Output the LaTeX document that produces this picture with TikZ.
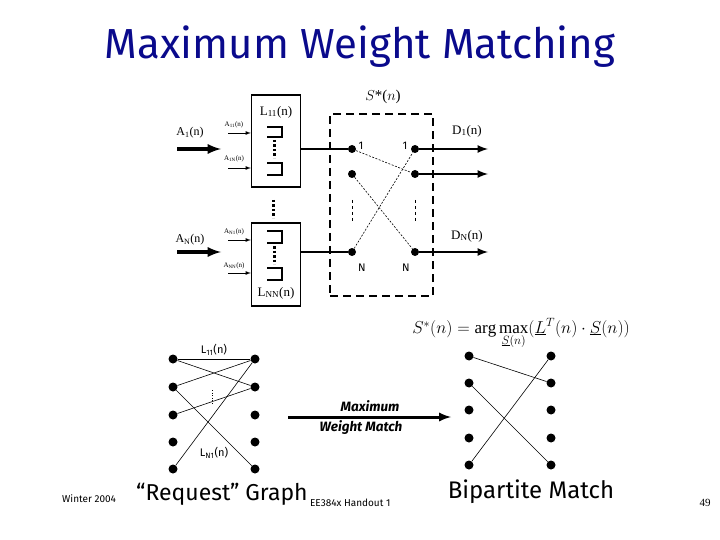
\documentclass[tikz,border=0pt]{standalone}
\usepackage{fontspec}
\setmainfont{Liberation Serif}
\newfontfamily\handfont{Fira Sans}
\usepackage{xcolor}
\usepackage{tikz}
\usetikzlibrary{arrows, positioning}
\definecolor{titleblue}{RGB}{10,10,140}

\begin{document}
\begin{tikzpicture}[x=1pt, y=-1pt]

\tikzstyle{qbox}=[rectangle,draw,line width=1.5pt,minimum width=49pt,inner sep=0pt]
\tikzstyle{dot}=[circle,fill=black,inner sep=0pt,minimum size=8pt]
\tikzstyle{fat}=[draw,line width=3.5pt,-latex]
\tikzstyle{thin}=[draw,line width=0.8pt,-latex]
\tikzstyle{wire}=[draw,line width=2.5pt]
\tikzstyle{edge}=[draw,line width=0.6pt]
\tikzstyle{lab}=[inner sep=0pt,font=\fontsize{13}{14}\selectfont]
\tikzstyle{tiny}=[inner sep=0pt,font=\fontsize{7}{8}\selectfont]
\tikzstyle{hand}=[inner sep=0pt,font=\handfont\fontsize{10}{12}\selectfont]
\tikzstyle{big}=[inner sep=0pt,font=\handfont\fontsize{24}{26}\selectfont]

\useasboundingbox (0,0) rectangle (720,540);

\node (title) [inner sep=0pt,text=titleblue,font=\handfont\fontsize{42}{46}\selectfont] at (360,47) {Maximum Weight Matching};

% input queues
\node (L11) [qbox,minimum height=92pt] at (276,141) {};
\node (LNN) [qbox,minimum height=83pt] at (276,264.5) {};
\node (L11lab) [lab] at (276,112) {L\textsubscript{11}(n)};
\node (LNNlab) [lab] at (276,293) {L\textsubscript{NN}(n)};

\draw[line width=2.5pt] (267,127) -- (282,127) -- (282,137) -- (267,137);
\draw[line width=2.5pt] (267,163) -- (282,163) -- (282,175) -- (267,175);
\draw[line width=2.5pt] (267,231) -- (282,231) -- (282,243) -- (267,243);
\draw[line width=2.5pt] (267,268) -- (282,268) -- (282,280) -- (267,280);
\draw[line width=3pt,dash pattern=on 2.5pt off 2pt] (274,140) -- (274,158);
\draw[line width=3pt,dash pattern=on 2.5pt off 2pt] (274,246) -- (274,264);
\draw[line width=3pt,dash pattern=on 2.5pt off 2pt] (273,200) -- (273,218);

\node (A1) [lab,font=\fontsize{12}{13}\selectfont] at (190,133) {A\textsubscript{1}(n)};
\node (AN) [lab,font=\fontsize{12}{13}\selectfont] at (190,240) {A\textsubscript{N}(n)};
\coordinate (a1s) at (177,149);
\coordinate (a1e) at (221,149);
\coordinate (aNs) at (177,252);
\coordinate (aNe) at (221,252);

\node (A11) [tiny] at (234,125) {A\textsubscript{11}(n)};
\node (A1N) [tiny] at (234,159) {A\textsubscript{1N}(n)};
\node (AN1) [tiny] at (234,232) {A\textsubscript{N1}(n)};
\node (ANN) [tiny] at (234,266) {A\textsubscript{NN}(n)};
\coordinate (a11) at (228,133);
\coordinate (a1n) at (228,168);
\coordinate (an1) at (228,240);
\coordinate (ann) at (228,273);

% crossbar
\node (sw) [draw,line width=2.5pt,dash pattern=on 8pt off 5pt,minimum width=103pt,minimum height=182pt,inner sep=0pt] at (381.5,205) {};
\node (swlab) [lab,font=\fontsize{15}{16}\selectfont] at (383,97) {$S$*($n$)};

\node (l1) [dot] at (352,149) {};
\node (l2) [dot] at (352,174) {};
\node (lN) [dot] at (352,252) {};
\node (r1) [dot] at (415,149) {};
\node (r2) [dot] at (415,174) {};
\node (rN) [dot] at (415,252) {};

\node (l1lab) [hand,font=\handfont\fontsize{11}{12}\selectfont] at (361,146) {1};
\node (r1lab) [hand,font=\handfont\fontsize{11}{12}\selectfont] at (405,146) {1};
\node (lNlab) [hand,font=\handfont\fontsize{11}{12}\selectfont] at (362,268) {N};
\node (rNlab) [hand,font=\handfont\fontsize{11}{12}\selectfont] at (406,268) {N};

\coordinate (d1) at (488,149);
\coordinate (d2) at (488,174);
\coordinate (dN) at (488,252);
\node (D1) [lab] at (467,131) {D\textsubscript{1}(n)};
\node (DN) [lab] at (467,236) {D\textsubscript{N}(n)};

% request graph
\foreach \i/\y in {1/359,2/387,3/415,4/442,5/469} {
  \node (p\i) [dot,minimum size=9pt] at (173,\y) {};
  \node (q\i) [dot,minimum size=9pt] at (255,\y) {};
}
\node (Lq11) [hand,font=\handfont\fontsize{11}{12}\selectfont] at (214,350) {L\textsubscript{11}(n)};
\node (LqN1) [hand,font=\handfont\fontsize{11}{12}\selectfont] at (214,453) {L\textsubscript{N1}(n)};

% bipartite match
\foreach \i/\y in {1/356,2/383,3/410,4/438,5/465} {
  \node (u\i) [dot,minimum size=9pt] at (469,\y) {};
  \node (v\i) [dot,minimum size=9pt] at (551,\y) {};
}

\node (mw1) [hand,font=\handfont\itshape\bfseries\fontsize{13.5}{14}\selectfont] at (370,406) {Maximum};
\node (mw2) [hand,font=\handfont\itshape\bfseries\fontsize{13.5}{14}\selectfont] at (361,428) {Weight Match};
\coordinate (ms) at (288,417);
\coordinate (me) at (451,417);

\node (eq) [inner sep=0pt,font=\fontsize{17}{18}\selectfont] at (521,333)
  {$S^*(n)=\arg\max\limits_{\underline{S}(n)}(\underline{L}^T(n)\cdot\underline{S}(n))$};

% footer
\node (winter) [hand,anchor=base west] at (62,502) {Winter 2004};
\node (req) [big,font=\handfont\fontsize{23}{25}\selectfont,anchor=base west] at (136,500) {“Request” Graph};
\node (handout) [hand,anchor=base west] at ([xshift=2pt,yshift=-6pt]req.base east) {EE384x Handout 1};
\node (bip) [big] at (531,492) {Bipartite Match};
\node (page) [inner sep=0pt,font=\fontsize{11}{12}\selectfont] at (705,503) {49};

% Connections
\path[fat] (a1s) -- (a1e);
\path[fat] (aNs) -- (aNe);
\path[thin] (a11) -- (L11.west |- a11);
\path[thin] (a1n) -- (L11.west |- a1n);
\path[thin] (an1) -- (LNN.west |- an1);
\path[thin] (ann) -- (LNN.west |- ann);

\path[wire] (L11.east |- l1) -- (l1);
\path[wire] (LNN.east |- lN) -- (lN);
\path[wire,-latex] (r1) -- (d1);
\path[wire,-latex] (r2) -- (d2);
\path[wire,-latex] (rN) -- (dN);

\draw[line width=0.6pt,dash pattern=on 2pt off 1.5pt] (l1) -- (r2);
\draw[line width=0.6pt,dash pattern=on 2pt off 1.5pt] (l2) -- (rN);
\draw[line width=0.6pt,dash pattern=on 2pt off 1.5pt] (lN) -- (r1);
\draw[line width=0.8pt,dashed] ([yshift=-26pt]l2.center) -- ([yshift=-48pt]l2.center);
\draw[line width=0.8pt,dashed] ([yshift=-26pt]r2.center) -- ([yshift=-48pt]r2.center);

\path[edge] (p1) -- (q1);
\path[edge] (p1) -- (q2);
\path[edge] (p2) -- (q1);
\path[edge] (p2) -- (q5);
\path[edge] (p3) -- (q2);
\path[edge] (p5) -- (q1);
\draw[line width=0.6pt,dotted] (212,390) -- (212,404);

\path[fat,line width=3pt] (ms) -- (me);

\path[edge] (u1) -- (v2);
\path[edge] (u2) -- (v5);
\path[edge] (u5) -- (v1);

\end{tikzpicture}
\end{document}
